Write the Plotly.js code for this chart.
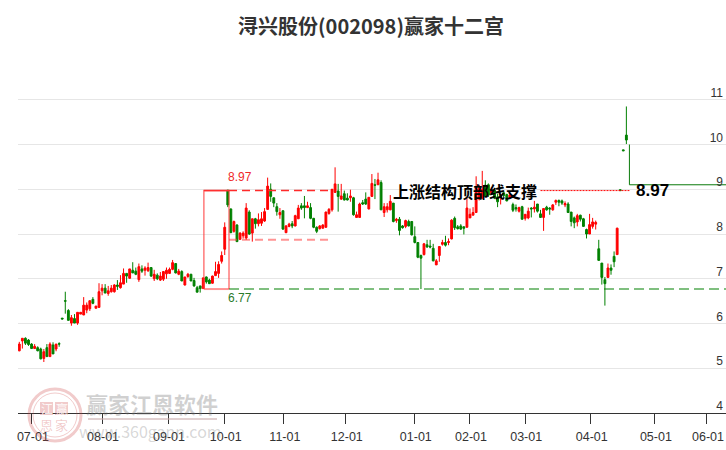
<!DOCTYPE html>
<html><head><meta charset="utf-8">
<script src="https://cdn.plot.ly/plotly-3.0.1.min.js"></script>
<style>html,body{margin:0;padding:0;background:#fff}#c{width:726px;height:450px}</style>
</head><body><div id="c"></div><script>
const openP=[
5.39,5.61,5.67,5.63,5.54,5.44,5.46,5.43,5.22,5.46,
5.26,5.52,5.43,5.55,6.12,6.51,6.29,6.01,6.11,6.01,
6.21,6.19,6.30,6.33,6.54,6.34,6.36,6.73,6.79,6.67,
6.71,6.71,6.86,6.80,6.88,7.12,7.01,7.19,7.17,6.98,
7.22,7.19,7.18,7.25,7.00,7.08,6.97,6.99,7.11,7.12,
7.21,7.34,7.10,7.16,6.86,7.05,7.10,6.96,6.80,6.84,
6.78,7.04,6.97,6.90,7.07,7.12,7.39,7.66,8.98,8.56,
8.06,8.20,7.88,7.96,7.91,8.49,8.02,8.34,8.23,8.24,
8.29,8.55,9.00,8.81,8.61,8.43,8.52,8.03,8.17,8.23,
8.18,8.34,8.63,8.63,8.59,8.59,8.35,8.15,8.12,8.13,
8.15,8.46,8.54,8.93,8.96,8.78,8.90,8.80,8.81,8.81,
8.37,8.37,8.70,8.78,8.56,8.84,9.10,9.10,9.15,8.48,
8.54,8.54,8.69,8.30,8.33,8.18,8.17,8.28,8.28,7.94,
7.81,7.52,7.54,7.76,7.73,7.68,7.31,7.52,7.77,7.81,
7.81,7.89,8.35,8.16,8.18,8.16,8.15,8.36,8.42,8.48,
8.78,8.80,9.09,9.10,8.92,8.98,8.83,8.80,8.92,8.88,
8.82,8.66,8.59,8.51,8.61,8.35,8.36,8.58,8.56,8.67,
8.45,8.37,8.60,8.58,8.54,8.71,8.75,8.74,8.65,8.67,
8.49,8.36,8.27,8.42,8.34,8.10,8.00,8.17,8.22,7.67,
7.35,6.98,7.03,7.24,7.50,7.54,8.99,9.88,10.21];
const highP=[
5.59,5.67,5.69,5.65,5.56,5.54,5.49,5.46,5.43,5.54,
5.58,5.58,5.54,5.58,6.12,6.71,6.32,6.19,6.21,6.25,
6.25,6.59,6.47,6.51,6.59,6.39,6.90,6.88,6.88,6.84,
6.86,6.88,6.97,7.08,7.23,7.12,7.22,7.37,7.25,7.34,
7.30,7.28,7.36,7.26,7.20,7.12,7.15,7.17,7.25,7.25,
7.42,7.34,7.22,7.19,7.04,7.13,7.11,7.02,6.84,6.84,
7.02,7.05,7.00,7.07,7.38,7.39,7.61,8.26,8.98,8.57,
8.30,8.22,8.04,8.06,8.69,8.53,8.34,8.36,8.46,8.49,
8.58,9.26,9.13,8.81,8.69,8.58,8.52,8.20,8.25,8.29,
8.43,8.65,8.69,8.85,8.72,8.69,8.36,8.17,8.20,8.22,
8.50,8.58,9.00,9.49,9.12,9.12,8.97,8.91,8.99,8.83,
8.50,8.70,8.76,8.93,8.82,9.34,9.23,9.37,9.20,8.69,
8.69,8.87,8.69,8.36,8.38,8.20,8.32,8.32,8.29,8.17,
7.81,7.54,7.80,7.87,7.87,7.78,7.44,7.72,7.87,7.96,
7.90,8.33,8.39,8.20,8.22,8.17,8.80,8.57,8.60,9.29,
9.10,9.41,9.20,9.13,9.05,9.02,8.90,8.90,8.95,8.90,
8.92,8.70,8.66,8.61,8.63,8.44,8.59,8.60,8.74,8.67,
8.54,8.57,8.63,8.60,8.67,8.77,8.77,8.77,8.73,8.71,
8.49,8.39,8.45,8.43,8.36,8.12,8.45,8.36,8.30,7.87,
7.35,7.04,7.34,7.32,7.61,8.14,8.99,9.88,10.85];
const lowP=[
5.38,5.44,5.52,5.50,5.43,5.43,5.38,5.20,5.14,5.26,
5.26,5.32,5.38,5.48,6.10,6.22,6.07,5.95,6.01,5.97,
6.21,6.19,6.23,6.28,6.43,6.34,6.36,6.63,6.68,6.62,
6.69,6.69,6.75,6.78,6.88,6.91,7.00,7.13,7.08,6.93,
7.13,7.07,7.15,7.04,6.95,6.97,6.95,6.95,7.00,7.12,
7.19,7.12,7.08,6.95,6.85,7.02,6.95,6.82,6.70,6.69,
6.78,6.89,6.89,6.89,7.06,7.02,7.34,7.53,8.60,8.02,
8.03,7.82,7.87,7.90,7.87,7.98,7.83,8.12,8.17,8.18,
8.27,8.55,8.72,8.60,8.41,8.34,8.09,8.02,8.15,8.13,
8.17,8.34,8.54,8.35,8.58,8.33,8.13,8.02,8.10,8.12,
8.14,8.43,8.50,8.93,8.50,8.76,8.75,8.75,8.72,8.41,
8.37,8.36,8.65,8.65,8.55,8.83,8.78,9.10,8.54,8.38,
8.48,8.53,8.26,8.25,7.97,8.12,8.13,8.17,7.97,7.79,
7.46,6.77,7.52,7.69,7.68,7.39,7.31,7.38,7.74,7.72,
7.75,7.88,8.09,8.10,8.09,7.99,8.15,8.36,8.42,8.48,
8.75,8.78,8.83,8.83,8.90,8.78,8.60,8.66,8.82,8.73,
8.80,8.49,8.50,8.48,8.32,8.30,8.33,8.37,8.48,8.48,
8.36,8.07,8.52,8.43,8.52,8.65,8.62,8.65,8.60,8.47,
8.17,8.13,8.17,8.28,8.17,7.90,8.00,8.12,8.10,7.41,
6.87,6.40,7.03,7.09,7.26,7.53,8.97,9.86,10.01];
const closeP=[
5.54,5.67,5.56,5.53,5.44,5.49,5.39,5.21,5.37,5.26,
5.54,5.32,5.54,5.54,6.10,6.50,6.07,6.13,6.01,6.25,
6.25,6.41,6.41,6.51,6.45,6.39,6.71,6.79,6.68,6.73,
6.79,6.86,6.83,6.91,7.12,7.06,7.22,7.13,7.10,7.27,
7.17,7.24,7.25,7.06,7.10,7.00,7.06,7.16,7.19,7.21,
7.36,7.13,7.17,6.95,7.04,7.10,6.95,6.84,6.70,6.78,
7.02,6.93,6.89,7.06,7.16,7.32,7.52,8.15,8.65,8.03,
8.28,7.83,8.02,8.02,8.58,8.00,8.34,8.23,8.32,8.34,
8.50,9.07,8.84,8.69,8.50,8.48,8.11,8.18,8.22,8.18,
8.41,8.58,8.58,8.59,8.63,8.35,8.15,8.06,8.18,8.20,
8.49,8.55,9.00,9.12,8.84,8.85,8.76,8.76,8.85,8.43,
8.43,8.67,8.67,8.67,8.82,9.13,9.09,9.21,8.54,8.61,
8.61,8.73,8.28,8.33,8.08,8.14,8.30,8.18,7.98,7.81,
7.48,7.46,7.78,7.71,7.71,7.40,7.40,7.72,7.81,7.75,
7.83,8.31,8.14,8.12,8.11,8.13,8.58,8.44,8.48,9.03,
9.02,9.00,8.85,8.87,8.98,8.80,8.72,8.85,8.86,8.74,
8.87,8.53,8.56,8.59,8.33,8.44,8.51,8.56,8.60,8.51,
8.37,8.57,8.54,8.56,8.65,8.75,8.71,8.69,8.68,8.48,
8.28,8.25,8.41,8.33,8.17,8.00,8.21,8.27,8.26,7.41,
7.03,6.89,7.24,7.19,7.38,8.13,8.97,9.86,10.10];
const monthLabels=['07-01','08-01','09-01','10-01','11-01','12-01','01-01','02-01','03-01','04-01','05-01','06-01'];
const monthSlots=[4.1,27,48.5,67,86.3,106.5,129,147,165,186.4,207.3,224.3];
const priceTicks=[4,5,6,7,8,9,10,11,12];
const priceLabels=['4','5','6','7','8','9','10','11',''];
const boxLeft=60.2, boxRight=68.4, lineEnd=100.7, lastSlot=230.5;
const topLevel=8.97, bottomLevel=6.77, innerLevel=7.87, breakLevel=9.10, spikeLevel=10.0;
const dotStart=170, pivot=199;

const slots=openP.map((_,i)=>i);
const line=(x,y,color,width,dash)=>({type:'scatter',mode:'lines',x,y,hoverinfo:'skip',showlegend:false,
  line:{color,width,dash:dash||'solid'}});
const traces=[
 line([boxLeft,boxLeft,boxRight,boxRight],[bottomLevel,topLevel,topLevel,bottomLevel],'rgba(255,50,50,0.65)',1.5),
 line([boxLeft,boxRight],[topLevel,topLevel],'#ff3030',1.5),
 line([boxLeft,boxRight],[bottomLevel,bottomLevel],'rgba(255,60,60,0.55)',2),
 line([boxRight,lineEnd],[topLevel,topLevel],'#ff2a2a',1.5,'8px,5px'),
 line([boxRight,lineEnd],[innerLevel,innerLevel],'rgba(255,60,60,0.55)',2,'8px,5px'),
 line([boxRight,lastSlot],[bottomLevel,bottomLevel],'rgba(0,128,0,0.5)',2,'10px,5px'),
 line([dotStart,pivot],[topLevel,topLevel],'#f00',1,'2px,1px'),
 line([pivot,pivot,lastSlot],[spikeLevel,breakLevel,breakLevel],'#0a7a0a',1),
 {type:'candlestick',x:slots,open:openP,high:highP,low:lowP,close:closeP,hoverinfo:'skip',showlegend:false,
  increasing:{line:{color:'#ff0000',width:1},fillcolor:'#ff0000'},
  decreasing:{line:{color:'#008000',width:1},fillcolor:'#008000'},whiskerwidth:0}
];
const px=v=>(v-18)/708, py=v=>(413-v)/358;
const wm='rgba(205,70,70,0.28)';
const shapes=[
 {type:'circle',xref:'paper',yref:'paper',x0:px(29),x1:px(81),y0:py(441),y1:py(389),line:{color:wm,width:3}},
 {type:'circle',xref:'paper',yref:'paper',x0:px(33),x1:px(77),y0:py(437),y1:py(393),line:{color:wm,width:1}},
 {type:'rect',xref:'paper',yref:'paper',x0:px(40),x1:px(53),y0:py(415),y1:py(402),fillcolor:wm,line:{width:0}},
 {type:'rect',xref:'paper',yref:'paper',x0:px(55),x1:px(68),y0:py(415),y1:py(402),fillcolor:wm,line:{width:0}},
 {type:'rect',xref:'paper',yref:'paper',x0:px(88),x1:px(217),y0:py(420),y1:py(418),fillcolor:'rgba(200,170,170,0.55)',line:{width:0}}
];
const wmText=(t,x,y,size,color,weight)=>({text:t,xref:'paper',yref:'paper',x:px(x),y:py(y),showarrow:false,
  xanchor:'center',yanchor:'middle',font:{size,color,family:'"Noto Sans CJK SC",sans-serif',weight:weight||400}});
const annotations=[
 wmText('赢家江恩软件',152,403,22,'rgba(120,120,120,0.34)',700),
 wmText('www.360gann.com',150,431,16,'rgba(120,120,120,0.3)'),
 wmText('江',46.5,408.5,12,'rgba(255,255,255,0.9)'),
 wmText('赢',61.5,408.5,12,'rgba(255,255,255,0.9)'),
 wmText('恩',46.5,424,13,wm),
 wmText('家',61.5,424,13,wm),
 {text:'8.97',x:71.9,y:9.27,showarrow:false,font:{size:12,color:'#f02828',family:'"Liberation Sans",Arial'}},
 {text:'6.77',x:71.9,y:6.57,showarrow:false,font:{size:12,color:'#2a7a2a',family:'"Liberation Sans",Arial'}},
 {text:'上涨结构顶部线支撑',x:145.4,y:8.97,showarrow:false,font:{size:16,color:'#000',family:'"Noto Sans CJK SC"',weight:700}},
 {text:'8.97',x:206.6,y:8.97,showarrow:false,font:{size:17,color:'#000',family:'"Liberation Sans",Arial',weight:700}}
];
Plotly.newPlot('c',traces,{
 width:726,height:450,paper_bgcolor:'#fff',plot_bgcolor:'#fff',showlegend:false,
 margin:{l:18,r:0,t:55,b:37,pad:0},boxgap:0.15,
 title:{text:'浔兴股份(002098)赢家十二宫',x:371/726,xanchor:'center',y:1-27/450,yanchor:'middle',
   font:{size:20,color:'#333',family:'"Noto Sans CJK SC"',weight:700}},
 xaxis:{type:'linear',range:[(18-19.3)/3.066,lastSlot],tickmode:'array',tickvals:monthSlots,ticktext:monthLabels,
   ticks:'outside',ticklen:10,tickwidth:1,tickcolor:'#333',showgrid:false,zeroline:false,showline:true,linecolor:'#333',linewidth:1,
   ticklabelshift:1,ticklabelstandoff:2,ticklabeloverflow:'allow',
   rangeslider:{visible:false},fixedrange:true,tickangle:0,tickfont:{size:12.5,color:'#333',family:'"Liberation Sans",Arial'}},
 yaxis:{type:'linear',side:'right',range:[4,12],tickmode:'array',tickvals:priceTicks,ticktext:priceLabels,
   ticklabelposition:'inside',ticklabelshift:-7,ticklabeloverflow:'allow',showgrid:true,gridcolor:'#e6e6e6',gridwidth:1,zeroline:false,ticks:'',showline:false,fixedrange:true,
   tickfont:{size:12,color:'#333',family:'"Liberation Sans",Arial'}},
 shapes,annotations
},{displayModeBar:false,staticPlot:true});
</script></body></html>
